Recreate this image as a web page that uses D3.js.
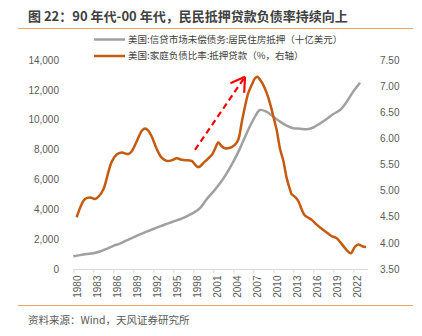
<!DOCTYPE html>
<html>
<head>
<meta charset="utf-8">
<script src="https://cdn.jsdelivr.net/npm/d3@7"></script>
<style>
  html, body { margin: 0; padding: 0; background: #fff; }
  svg { display: block; }
</style>
</head>
<body>
<svg width="422" height="336"></svg>
<script>
// mortgage debt outstanding, households (billion USD), year-start values
var debtYears = d3.range(1980, 2024);
var debtValues = [
  850, 930, 1000, 1060, 1170, 1350, 1550, 1700, 1920, 2120,
  2320, 2500, 2680, 2860, 3020, 3180, 3330, 3530, 3760, 4080,
  4670, 5180, 5740, 6410, 7190, 8080, 9090, 10000, 10650, 10520,
  10200, 9870, 9600, 9430, 9400, 9360, 9480, 9750, 10050, 10380,
  10650, 11200, 11900, 12480
];

// household debt service ratio: mortgage (%, right axis)
var ratioYears = [
  1980.5, 1981.25, 1981.75, 1982.5, 1983.25, 1983.75, 1984.5, 1985.25, 1985.75, 1986.5,
  1987.25, 1988.25, 1988.75, 1989.5, 1990.25, 1990.75, 1991.25, 1991.75, 1992.5, 1993.25,
  1994, 1994.75, 1995.5, 1996.25, 1997.25, 1997.75, 1998.75, 1999.75, 2000.75, 2001.25,
  2001.75, 2002.25, 2002.75, 2003.5, 2004.25, 2004.75, 2005.25, 2005.75, 2006.25, 2006.75,
  2007.25, 2007.6, 2008, 2008.5, 2009, 2009.5, 2010, 2010.5, 2011, 2011.5,
  2012, 2012.5, 2012.75, 2013.25, 2013.75, 2014.25, 2014.75, 2015.25, 2015.75, 2016.5,
  2017.25, 2018, 2018.75, 2019.5, 2020, 2020.75, 2021.6, 2022.25, 2022.75, 2023.4,
  2023.9
];
var ratioValues = [
  4.49, 4.74, 4.84, 4.87, 4.84, 4.88, 5.02, 5.35, 5.55, 5.69,
  5.73, 5.70, 5.75, 5.94, 6.14, 6.19, 6.15, 6.04, 5.80, 5.63,
  5.57, 5.58, 5.62, 5.59, 5.58, 5.57, 5.45, 5.56, 5.68, 5.80,
  5.92, 5.85, 5.81, 5.82, 5.88, 5.98, 6.30, 6.61, 6.87, 7.02,
  7.15, 7.18, 7.12, 7.02, 6.87, 6.67, 6.42, 6.16, 5.80, 5.57,
  5.24, 5.02, 4.93, 4.88, 4.80, 4.64, 4.52, 4.48, 4.44, 4.35,
  4.27, 4.20, 4.13, 4.09, 4.02, 3.90, 3.80, 3.93, 3.97, 3.93,
  3.92
];

var leftTicks = [0, 2000, 4000, 6000, 8000, 10000, 12000, 14000];
var rightTicks = [3.5, 4, 4.5, 5, 5.5, 6, 6.5, 7, 7.5];
var labelYears = d3.range(1980, 2023, 3);

var titleText = "图 22：90 年代-00 年代，民民抵押贷款负债率持续向上";
var legendNames = ["美国:信贷市场未偿债务:居民住房抵押（十亿美元）", "美国:家庭负债比率:抵押贷款（%，右轴）"];
var sourceText = "资料来源：Wind，天风证券研究所";

var grey = "#a0a0a0", orange = "#c55a11";
var cjk = "'Noto Sans CJK SC', sans-serif";
var num = "'Liberation Sans', Arial, sans-serif";

var svg = d3.select("svg");

var x = d3.scaleLinear().domain([1980, 2024]).range([73.3, 366.7]);
var yL = d3.scaleLinear().domain([0, 14000]).range([269, 60]);
var yR = d3.scaleLinear().domain([3.5, 7.5]).range([269, 60]);

// header
svg.append("text")
    .attr("x", 28).attr("y", 21)
    .attr("font-family", cjk).attr("font-size", 13).attr("font-weight", "bold")
    .attr("fill", "#404040")
    .text(titleText);
svg.append("line")
    .attr("x1", 18).attr("x2", 413).attr("y1", 28.5).attr("y2", 28.5)
    .attr("stroke", "#f4a460").attr("stroke-width", 1.2);

// footer
svg.append("line")
    .attr("x1", 18).attr("x2", 413).attr("y1", 305.5).attr("y2", 305.5)
    .attr("stroke", "#f4a460").attr("stroke-width", 1.2);
svg.append("text")
    .attr("x", 28).attr("y", 324)
    .attr("font-family", cjk).attr("font-size", 10.5)
    .attr("fill", "#595959")
    .text(sourceText);

// axes
var axisL = svg.append("g")
    .attr("transform", "translate(" + 62 + ",0)")
    .call(d3.axisLeft(yL).tickValues(leftTicks).tickSize(0).tickFormat(d3.format(",")));
axisL.select(".domain").remove();

var axisR = svg.append("g")
    .attr("transform", "translate(" + 377 + ",0)")
    .call(d3.axisRight(yR).tickValues(rightTicks).tickSize(0).tickFormat(d3.format(".2f")));
axisR.select(".domain").remove();

[axisL, axisR].forEach(function(a) {
  a.selectAll("text")
      .attr("font-family", num).attr("font-size", 10).attr("fill", "#595959");
});

var halfYear = x(1980.5) - x(1980);
var axisB = svg.append("g")
    .attr("transform", "translate(0," + 269.5 + ")")
    .call(d3.axisBottom(x).tickValues(labelYears).tickSize(4).tickSizeOuter(0).tickFormat(d3.format("d")));
axisB.select(".domain")
    .attr("d", "M" + x(1980) + ",0H" + (x(2024) + 1))
    .attr("stroke", "#d9d9d9");
axisB.selectAll(".tick line").attr("stroke", "#d9d9d9");
axisB.selectAll(".tick text")
    .attr("transform", "rotate(-90)")
    .attr("x", -6).attr("y", halfYear).attr("dy", "0.35em")
    .attr("text-anchor", "end")
    .attr("font-family", num).attr("font-size", 10).attr("fill", "#595959");

// series
var debtLine = d3.line()
    .x(function(d, i) { return x(debtYears[i]); })
    .y(function(d) { return yL(d); })
    .curve(d3.curveCatmullRom);
svg.append("path")
    .datum(debtValues)
    .attr("d", debtLine)
    .attr("fill", "none").attr("stroke", grey).attr("stroke-width", 2.5);

var ratioLine = d3.line()
    .x(function(d, i) { return x(ratioYears[i]); })
    .y(function(d) { return yR(d); })
    .curve(d3.curveCatmullRom);
svg.append("path")
    .datum(ratioValues)
    .attr("d", ratioLine)
    .attr("fill", "none").attr("stroke", orange).attr("stroke-width", 2.5);

// rising trend arrow
var a0 = [x(1998.25), yR(5.78)], a1 = [x(2005.75), yR(7.18)];
svg.append("line")
    .attr("x1", a0[0]).attr("y1", a0[1]).attr("x2", a1[0]).attr("y2", a1[1])
    .attr("stroke", "#ff0000").attr("stroke-width", 2.2).attr("stroke-dasharray", "6,4");
var ang = Math.atan2(a1[1] - a0[1], a1[0] - a0[0]);
[-0.55, 0.55].forEach(function(da) {
  svg.append("line")
      .attr("x1", a1[0]).attr("y1", a1[1])
      .attr("x2", a1[0] - 16 * Math.cos(ang + da)).attr("y2", a1[1] - 16 * Math.sin(ang + da))
      .attr("stroke", "#ff0000").attr("stroke-width", 2.2);
});

// legend
var legend = svg.append("g").attr("font-family", cjk).attr("font-size", 9.5).attr("fill", "#404040");
[grey, orange].forEach(function(c, i) {
  var ly = 39.5 + i * 16.5;
  legend.append("line")
      .attr("x1", 94).attr("x2", 125).attr("y1", ly).attr("y2", ly)
      .attr("stroke", c).attr("stroke-width", 2.5);
  legend.append("text")
      .attr("x", 128).attr("y", ly).attr("dy", "0.35em")
      .text(legendNames[i]);
});
</script>
</body>
</html>
